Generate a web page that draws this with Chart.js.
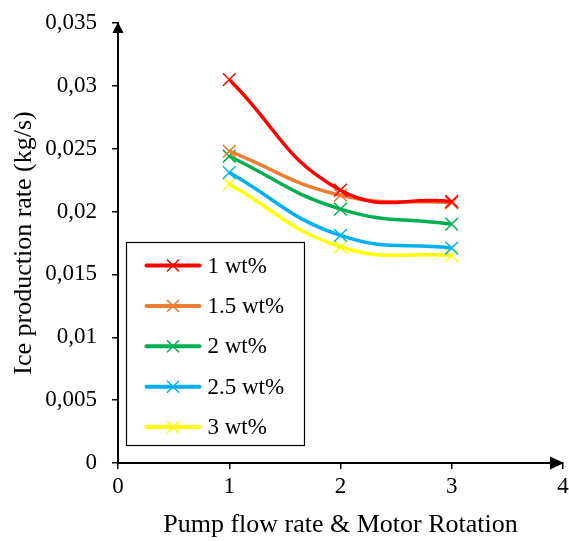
<!DOCTYPE html>
<html>
<head>
<meta charset="utf-8">
<script src="https://cdn.jsdelivr.net/npm/chart.js@4/dist/chart.umd.min.js"></script>
<style>
  html, body { margin: 0; padding: 0; background: #fff; }
  #wrap { width: 569px; height: 541px; }
</style>
</head>
<body>
<div id="wrap"><canvas id="chart" width="569" height="541"></canvas></div>
<script>
// data
var xValues = [1, 2, 3];
var seriesNames = ['1 wt%', '1.5 wt%', '2 wt%', '2.5 wt%', '3 wt%'];
var wt1 = [0.0305, 0.0217, 0.0208];
var wt15 = [0.0248, 0.0213, 0.0207];
var wt2 = [0.0244, 0.0202, 0.0190];
var wt25 = [0.0231, 0.0181, 0.0171];
var wt3 = [0.0222, 0.0172, 0.0165];
var yTicks = [0, 0.005, 0.01, 0.015, 0.02, 0.025, 0.03, 0.035];
var xTicks = [0, 1, 2, 3, 4];

var colors = ['#ff0000', '#ed7d31', '#00b050', '#00b0f0', '#ffff00'];
var allSeries = [wt1, wt15, wt2, wt25, wt3];
var serif = "'Liberation Serif', 'Times New Roman', serif";

function toPoints(values) {
  return values.map(function(v, i) { return { x: xValues[i], y: v }; });
}

var datasets = allSeries.map(function(values, i) {
  return {
    label: seriesNames[i],
    data: toPoints(values),
    borderColor: colors[i],
    backgroundColor: colors[i],
    borderWidth: 3.5,
    tension: 0.45,
    pointStyle: 'crossRot',
    pointRadius: 9,
    pointBorderWidth: 1.5,
    pointHoverRadius: 9,
    fill: false
  };
});

// comma decimal like the original
function fmt(v) {
  return parseFloat(v.toFixed(3)).toString().replace('.', ',');
}

// arrows at the ends of the axes
var arrowPlugin = {
  id: 'arrows',
  afterDraw: function(chart) {
    var ctx = chart.ctx;
    var a = chart.chartArea;
    ctx.save();
    ctx.fillStyle = '#000';
    ctx.beginPath();
    ctx.moveTo(a.left, a.top - 1);
    ctx.lineTo(a.left - 5.5, a.top + 10);
    ctx.lineTo(a.left + 5.5, a.top + 10);
    ctx.closePath();
    ctx.fill();
    ctx.beginPath();
    ctx.moveTo(a.right + 1, a.bottom);
    ctx.lineTo(a.right - 13, a.bottom - 6.5);
    ctx.lineTo(a.right - 13, a.bottom + 6.5);
    ctx.closePath();
    ctx.fill();
    ctx.restore();
  }
};

// boxed legend inside the plot, like the excel one
var boxLegend = {
  id: 'boxLegend',
  afterDraw: function(chart) {
    var ctx = chart.ctx;
    var a = chart.chartArea;
    var bx = a.left + 8.5, by = a.top + 219.5, bw = 178, bh = 203;
    ctx.save();
    ctx.fillStyle = '#fff';
    ctx.fillRect(bx, by, bw, bh);
    ctx.strokeStyle = '#000';
    ctx.lineWidth = 1.2;
    ctx.strokeRect(bx, by, bw, bh);
    ctx.font = '23px ' + serif;
    ctx.textBaseline = 'middle';
    chart.data.datasets.forEach(function(ds, i) {
      var y = by + 23 + i * 40.4;
      var x0 = bx + 20, x1 = bx + 73;
      ctx.strokeStyle = ds.borderColor;
      ctx.lineWidth = 4;
      ctx.lineCap = 'round';
      ctx.beginPath();
      ctx.moveTo(x0, y);
      ctx.lineTo(x1, y);
      ctx.stroke();
      var cx = (x0 + x1) / 2, r = 6;
      ctx.lineWidth = 1.5;
      ctx.lineCap = 'butt';
      ctx.beginPath();
      ctx.moveTo(cx - r, y - r); ctx.lineTo(cx + r, y + r);
      ctx.moveTo(cx - r, y + r); ctx.lineTo(cx + r, y - r);
      ctx.stroke();
      ctx.fillStyle = '#000';
      ctx.fillText(ds.label, bx + 81, y + 1);
    });
    ctx.restore();
  }
};

var chart = new Chart(document.getElementById('chart'), {
  type: 'line',
  data: { datasets: datasets },
  plugins: [arrowPlugin, boxLegend],
  options: {
    responsive: false,
    animation: false,
    layout: { autoPadding: false, padding: { top: 23, right: 6, left: 0, bottom: 0 } },
    plugins: {
      legend: { display: false },
      tooltip: { enabled: false }
    },
    scales: {
      x: {
        type: 'linear',
        min: 0,
        max: 4,
        afterBuildTicks: function(scale) {
          scale.ticks = xTicks.map(function(v) { return { value: v }; });
        },
        afterFit: function(scale) {
          scale.height = 78;
          scale.paddingLeft = 0;
          scale.paddingRight = 0;
        },
        border: { color: '#000', width: 2 },
        grid: { drawOnChartArea: false, drawTicks: true, tickLength: 6, color: '#000', lineWidth: 1.5 },
        ticks: {
          color: '#000',
          font: { family: serif, size: 23 },
          padding: 4,
          maxRotation: 0,
          callback: function(v) { return fmt(v); }
        },
        title: {
          display: true,
          text: 'Pump flow rate & Motor Rotation',
          color: '#000',
          font: { family: serif, size: 26 },
          padding: { top: 4, bottom: 0 }
        }
      },
      y: {
        type: 'linear',
        min: 0,
        max: 0.035,
        afterBuildTicks: function(scale) {
          scale.ticks = yTicks.map(function(v) { return { value: v }; });
        },
        afterFit: function(scale) {
          scale.width = 118;
          scale.paddingTop = 0;
          scale.paddingBottom = 0;
        },
        border: { color: '#000', width: 2 },
        grid: { drawOnChartArea: false, drawTicks: true, tickLength: 6, color: '#000', lineWidth: 1.5 },
        ticks: {
          color: '#000',
          font: { family: serif, size: 23 },
          padding: 15,
          callback: function(v) { return fmt(v); }
        },
        title: {
          display: true,
          text: 'Ice production rate (kg/s)',
          color: '#000',
          font: { family: serif, size: 26 },
          padding: { top: 9, bottom: 0 }
        }
      }
    }
  }
});
</script>
</body>
</html>
